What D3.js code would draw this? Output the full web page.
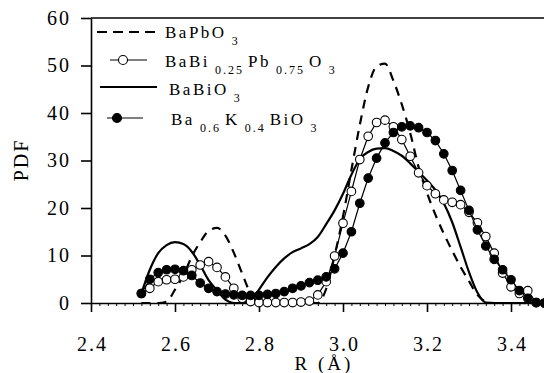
<!DOCTYPE html>
<html>
<head>
<meta charset="utf-8">
<script src="https://cdn.jsdelivr.net/npm/d3@7"></script>
<style>
  body { margin: 0; background: #fff; }
  text { font-family: "Liberation Serif", "Times New Roman", Times, serif; fill: #000; }
</style>
</head>
<body>
<div id="chart"></div>
<script>
// R grid (Å), shared by all four curves
const rValues = [2.52, 2.54, 2.56, 2.58, 2.60, 2.62, 2.64, 2.66, 2.68, 2.70,
  2.72, 2.74, 2.76, 2.78, 2.80, 2.82, 2.84, 2.86, 2.88, 2.90,
  2.92, 2.94, 2.96, 2.98, 3.00, 3.02, 3.04, 3.06, 3.08, 3.10,
  3.12, 3.14, 3.16, 3.18, 3.20, 3.22, 3.24, 3.26, 3.28, 3.30,
  3.32, 3.34, 3.36, 3.38, 3.40, 3.42, 3.44, 3.46, 3.48];

// BaPbO3 (dashed)
const pdfBaPbO3 = [0, 0, 0, 0.3, 2.8, 5.8, 9.8, 12.8, 15.2, 15.8,
  14.2, 10.6, 6.2, 2.0, 0.2, 0, 0, 0, 0, 0,
  0, 0, 3.0, 10.0, 18.2, 28.0, 37.5, 45.5, 49.8, 50.4,
  46.8, 41.8, 35.8, 28.6, 23.2, 18.6, 14.6, 11.0, 7.6, 4.6,
  1.7, 0.3, 0, 0, 0, 0, 0, 0, 0];

// BaBi0.25Pb0.75O3 (open circles)
const pdfBaBiPbO3 = [2.0, 3.1, 4.5, 4.9, 5.0, 5.5, 7.0, 8.0, 8.7, 7.5,
  5.5, 3.1, 1.0, 0.3, 0.1, 0.1, 0.1, 0.1, 0.1, 0.2,
  0.4, 1.7, 4.5, 9.9, 16.8, 23.5, 30.2, 35.1, 38.0, 38.5,
  37.1, 34.4, 30.9, 27.4, 24.7, 23.0, 21.7, 21.2, 20.7, 19.1,
  16.9, 14.0, 10.5, 6.3, 3.4, 2.0, 2.6, 0.1, 0];

// BaBiO3 (solid)
const pdfBaBiO3 = [2.0, 7.0, 10.5, 12.2, 12.8, 12.4, 10.8, 8.0, 4.8, 2.7,
  0.7, 0, 0, 0.3, 2.8, 5.4, 7.6, 9.4, 10.7, 11.5,
  12.4, 13.9, 16.6, 19.5, 23.0, 27.0, 30.3, 31.8, 32.5, 32.6,
  32.0, 31.0, 29.4, 27.6, 25.8, 23.8, 21.0, 17.0, 11.8, 6.5,
  2.2, 0.1, 0, 0, 0, 0, 0, 0, 0];

// Ba0.6K0.4BiO3 (filled circles)
const pdfBaKBiO3 = [2.0, 5.0, 6.4, 7.0, 7.1, 6.8, 5.8, 4.2, 3.1, 2.4,
  1.9, 1.7, 1.6, 1.6, 1.6, 1.8, 2.0, 2.4, 3.1, 3.6,
  4.3, 4.8, 5.5, 7.2, 10.5, 15.0, 21.0, 26.3, 30.5, 33.7,
  35.9, 37.1, 37.3, 36.9, 35.9, 34.2, 31.4, 27.9, 23.7, 19.5,
  15.4, 12.0, 9.2, 7.0, 4.9, 2.6, 1.0, 0.1, 0];

const xMajor = [2.4, 2.6, 2.8, 3.0, 3.2, 3.4];
const yMajor = [0, 10, 20, 30, 40, 50, 60];

const width = 544, height = 373;
const serif = "'Liberation Serif', 'Times New Roman', Times, serif";

const svg = d3.select("#chart")
  .append("svg")
    .attr("width", width)
    .attr("height", height);

const x = d3.scaleLinear()
  .domain([2.4, 3.48])
  .range([91, 544.6]);

const y = d3.scaleLinear()
  .domain([0, 60])
  .range([303, 18]);

// minor x ticks every 0.02
const xMinor = d3.range(0, 55).map(i => +(2.4 + i * 0.02).toFixed(2));

svg.append("g")
  .attr("transform", "translate(0," + y(0) + ")")
  .call(d3.axisBottom(x).tickValues(xMinor).tickSize(3).tickSizeOuter(0).tickFormat(""))
  .call(g => g.select(".domain").remove())
  .selectAll("line").attr("stroke-width", 1);

const xAxis = svg.append("g")
  .attr("transform", "translate(0," + y(0) + ")")
  .attr("font-family", serif)
  .call(d3.axisBottom(x).tickValues(xMajor).tickSize(9).tickSizeOuter(0).tickPadding(25)
    .tickFormat(d3.format(".1f")));
xAxis.select(".domain").attr("stroke-width", 1.6);
xAxis.selectAll("line").attr("stroke-width", 1.6);
xAxis.selectAll("text")
  .attr("dx", "1px")
  .style("font-size", "20px")
  .style("letter-spacing", "2px");

const yAxis = svg.append("g")
  .attr("transform", "translate(" + x(2.4) + ",0)")
  .attr("font-family", serif)
  .call(d3.axisLeft(y).tickValues(yMajor).tickSize(10).tickSizeOuter(0).tickPadding(10));
yAxis.select(".domain").attr("stroke-width", 1.6);
yAxis.selectAll("line").attr("stroke-width", 1.6);
yAxis.selectAll("text")
  .style("font-size", "20px")
  .style("letter-spacing", "2px");

// top frame line
svg.append("line")
  .attr("x1", x(2.4)).attr("x2", width)
  .attr("y1", y(60)).attr("y2", y(60))
  .attr("stroke", "#000").attr("stroke-width", 1.6);

// axis titles
svg.append("text")
  .attr("x", 324).attr("y", 370)
  .attr("text-anchor", "middle")
  .style("font-size", "19px")
  .style("letter-spacing", "3px")
  .text("R (Å)");

svg.append("text")
  .attr("transform", "translate(28,160)rotate(-90)")
  .attr("text-anchor", "middle")
  .style("font-size", "20px")
  .style("letter-spacing", "2px")
  .text("PDF");

const rows = rValues.map((r, i) => ({
  r: r, pb: pdfBaPbO3[i], mix: pdfBaBiPbO3[i], bi: pdfBaBiO3[i], k: pdfBaKBiO3[i]
}));

const plot = svg.append("g");

const smooth = key => d3.line()
  .x(d => x(d.r))
  .y(d => y(d[key]))
  .curve(d3.curveMonotoneX);

// BaPbO3 dashed
plot.append("path")
  .datum(rows)
  .attr("fill", "none")
  .attr("stroke", "#000")
  .attr("stroke-width", 2.2)
  .attr("stroke-dasharray", "9,7")
  .attr("d", smooth("pb"));

// BaBiO3 solid
plot.append("path")
  .datum(rows)
  .attr("fill", "none")
  .attr("stroke", "#000")
  .attr("stroke-width", 2.2)
  .attr("d", smooth("bi"));

// marker series
[["mix", "#fff"], ["k", "#000"]].forEach(([key, fill]) => {
  plot.append("path")
    .datum(rows)
    .attr("fill", "none")
    .attr("stroke", "#000")
    .attr("stroke-width", 1.2)
    .attr("d", d3.line().x(d => x(d.r)).y(d => y(d[key])));

  plot.append("g")
    .selectAll("circle")
    .data(rows)
    .join("circle")
      .attr("cx", d => x(d.r))
      .attr("cy", d => y(d[key]))
      .attr("r", 4.3)
      .attr("fill", fill)
      .attr("stroke", "#000")
      .attr("stroke-width", 1.1);
});

// legend
const legend = svg.append("g");

function label(xPos, yPos, parts) {
  const t = legend.append("text")
    .attr("x", xPos).attr("y", yPos)
    .style("font-size", "17px")
    .style("letter-spacing", "2.5px");
  let shifted = false;
  parts.forEach(p => {
    const sub = p[1];
    const ts = t.append("tspan").text(p[0]);
    if (sub) ts.style("font-size", "12px").style("letter-spacing", "2px");
    if (sub && !shifted) { ts.attr("dy", 6.5).attr("dx", 5); shifted = true; }
    else if (!sub && shifted) { ts.attr("dy", -6.5).attr("dx", 4); shifted = false; }
  });
}

legend.append("line")
  .attr("x1", 97).attr("x2", 157).attr("y1", 32).attr("y2", 32)
  .attr("stroke", "#000").attr("stroke-width", 2.2).attr("stroke-dasharray", "10,6");
label(165, 38, [["BaPbO", false], ["3", true]]);

legend.append("line")
  .attr("x1", 110).attr("x2", 147).attr("y1", 60).attr("y2", 60)
  .attr("stroke", "#000").attr("stroke-width", 1.2);
legend.append("circle")
  .attr("cx", 123).attr("cy", 60).attr("r", 4.5)
  .attr("fill", "#fff").attr("stroke", "#000").attr("stroke-width", 1.1);
label(165, 67, [["BaBi", false], ["0.25", true], ["Pb", false], ["0.75", true], ["O", false], ["3", true]]);

legend.append("line")
  .attr("x1", 100).attr("x2", 157).attr("y1", 87).attr("y2", 87)
  .attr("stroke", "#000").attr("stroke-width", 2.2);
label(169, 95, [["BaBiO", false], ["3", true]]);

legend.append("line")
  .attr("x1", 107).attr("x2", 143).attr("y1", 118).attr("y2", 118)
  .attr("stroke", "#000").attr("stroke-width", 1.2);
legend.append("circle")
  .attr("cx", 117).attr("cy", 118).attr("r", 4.5)
  .attr("fill", "#000").attr("stroke", "#000").attr("stroke-width", 1.1);
label(171, 125, [["Ba", false], ["0.6", true], ["K", false], ["0.4", true], ["BiO", false], ["3", true]]);
</script>
</body>
</html>
